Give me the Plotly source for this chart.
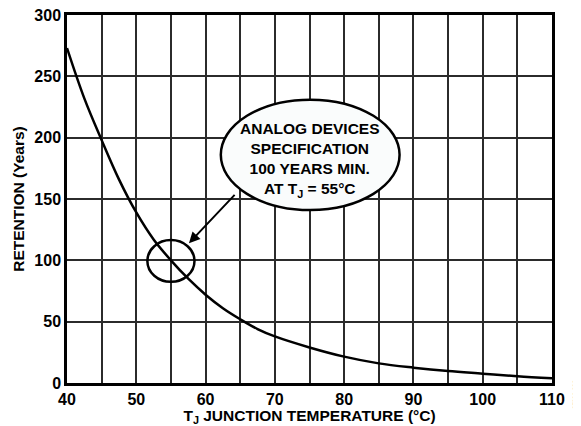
import plotly.graph_objects as go

# junction temperature (°C) and data retention (years)
temp_c = [40, 42.5, 45, 47.5, 50, 52.5, 55, 57.5, 60, 62.5, 65, 67.5, 70, 75, 80, 85, 90, 95, 100, 105, 110]
retention_yrs = [273, 232, 198, 166, 139, 117, 100, 85, 72, 61, 52, 44, 38, 29, 21.5, 16, 12.5, 9.7, 7.6, 5.5, 3.8]

x_ticks = [40, 50, 60, 70, 80, 90, 100, 110]
y_ticks = [0, 50, 100, 150, 200, 250, 300]

font = "Liberation Sans, Arial, sans-serif"
grid = "#2b2b2b"

fig = go.Figure()

fig.add_trace(go.Scatter(
    x=temp_c,
    y=retention_yrs,
    mode="lines",
    line=dict(color="black", width=2.5, shape="spline"),
    showlegend=False,
    hoverinfo="skip"
))

# page body has an 8px margin, so the figure is a bit smaller than the window
fig.update_layout(
    width=573,
    height=418,
    margin=dict(l=59, r=29, t=7, b=43, autoexpand=False),
    paper_bgcolor="white",
    plot_bgcolor="white",
    font=dict(family=font, color="black", size=15),
    xaxis=dict(
        range=[40, 110],
        tickvals=x_ticks,
        ticks="",
        tickfont=dict(size=16, weight="bold"),
        ticklabeloverflow="allow",
        showgrid=True,
        gridcolor=grid,
        gridwidth=1.5,
        minor=dict(dtick=5, showgrid=True, gridcolor=grid, gridwidth=1.5),
        showline=True,
        linecolor="black",
        linewidth=2.5,
        mirror=True,
        zeroline=False,
        automargin=False,
        title=dict(
            text="<b>T<sub>J</sub> JUNCTION TEMPERATURE (°C)</b>",
            font=dict(size=15.5),
            standoff=2
        ),
    ),
    yaxis=dict(
        range=[0, 300],
        tickvals=y_ticks,
        ticks="",
        tickfont=dict(size=16, weight="bold"),
        ticklabeloverflow="allow",
        showgrid=True,
        gridcolor=grid,
        gridwidth=1.5,
        showline=True,
        linecolor="black",
        linewidth=2.5,
        mirror=True,
        zeroline=False,
        automargin=False,
        title=dict(
            text="<b>RETENTION (Years)</b>",
            font=dict(size=15.5),
            standoff=6
        ),
    ),
    shapes=[
        # callout ellipse
        dict(type="circle", xref="x", yref="y", x0=62.2, x1=88.0, y0=141, y1=231,
             fillcolor="#fafcfc", line=dict(color="black", width=2.5), layer="above"),
        # marker circle round 55 °C / 100 years
        dict(type="circle", xref="x", yref="y", x0=51.6, x1=58.4, y0=82.5, y1=116.5,
             line=dict(color="black", width=2.5), layer="above"),
    ],
    annotations=[
        dict(x=57.6, y=114, ax=64.4, ay=154.6, xref="x", yref="y", axref="x", ayref="y",
             text="", showarrow=True, arrowhead=2, arrowsize=1.1, arrowwidth=2,
             arrowcolor="black"),
        dict(x=75.1, y=182, xref="x", yref="y", showarrow=False,
             text="<b>ANALOG DEVICES<br>SPECIFICATION<br>100 YEARS MIN.<br>AT T<sub>J</sub> = 55°C</b>",
             font=dict(size=15.5, color="black"), align="center"),
        dict(x=1.047, y=-0.075, xref="paper", yref="paper", showarrow=False,
             text="07022-006", textangle=-90, font=dict(size=6, color="#666666"),
             xanchor="center", yanchor="bottom"),
    ],
)

fig.write_html("out.html")
